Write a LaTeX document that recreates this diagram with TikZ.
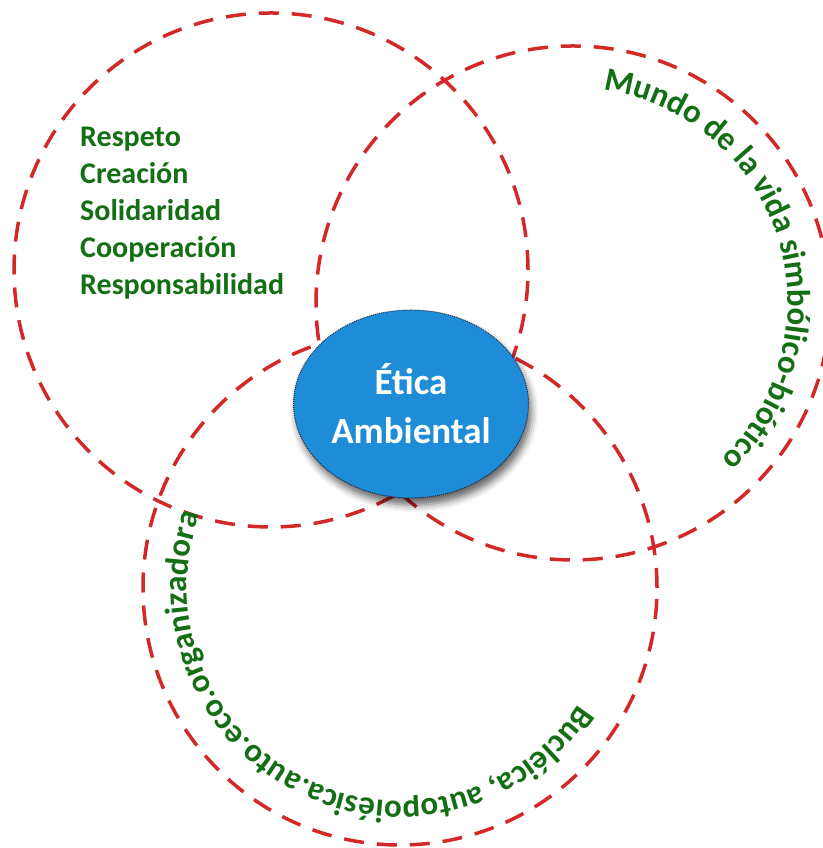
\documentclass[tikz,border=0pt]{standalone}
\usepackage{fontspec}
\setmainfont{Carlito}
\usetikzlibrary{shapes.geometric,%
	decorations.text,%
	shadows.blur}
\definecolor{circred}{RGB}{210,40,40}
\definecolor{leafgreen}{RGB}{20,110,20}
\definecolor{etblue}{RGB}{30,140,215}
\definecolor{etborder}{RGB}{30,40,70}
\newcommand{\rimfont}{\fontsize{33}{38}\selectfont\bfseries\color{leafgreen}}
\tikzset{
	zone/.style={circle, draw=circred, line width=3.5pt, dash pattern=on 20pt off 13pt,
		minimum size=514pt, inner sep=0pt},
	core/.style={ellipse, fill=etblue, draw=etborder, densely dotted, line width=1pt,
		minimum width=216pt, minimum height=188pt, text=white, align=center,
		font=\fontsize{37}{49}\selectfont\bfseries,
		blur shadow={shadow xshift=3pt, shadow yshift=-7pt, shadow blur radius=7pt, shadow opacity=60}},
	values/.style={text=leafgreen, align=left, inner sep=0pt, anchor=north west,
		font=\fontsize{30}{37}\selectfont\bfseries},
	rim/.style={decorate, decoration={text along path, text align=left, text={#1}}}
}

\begin{document}
\begin{tikzpicture}[x=1pt, y=1pt]
			\useasboundingbox (0,0) rectangle (822,848);
			\node[zone] (valores) at (271,578) {};
			\node[zone] (simbolico) at (573,545) {};
			\node[zone] (bucle) at (400,260) {};
			\node[values] (lista) at (80,721) {Respeto\\Creación\\Solidaridad\\Cooperación\\Responsabilidad};
			% texts along the inner rim
			\path[rim={|\rimfont|Mundo de la vida simbólico-biótico}]
				(simbolico.center) ++(82:215) arc[start angle=82, end angle=-120, radius=215];
			\path[rim={|\rimfont|Bucléica, autopoiésica.auto.eco.organizadora}]
				(bucle.center) ++(-33:213) arc[start angle=-33, end angle=-260, radius=213];
			\node[core] (etica) at (411,444) {Ética\\Ambiental};
\end{tikzpicture}
\end{document}
